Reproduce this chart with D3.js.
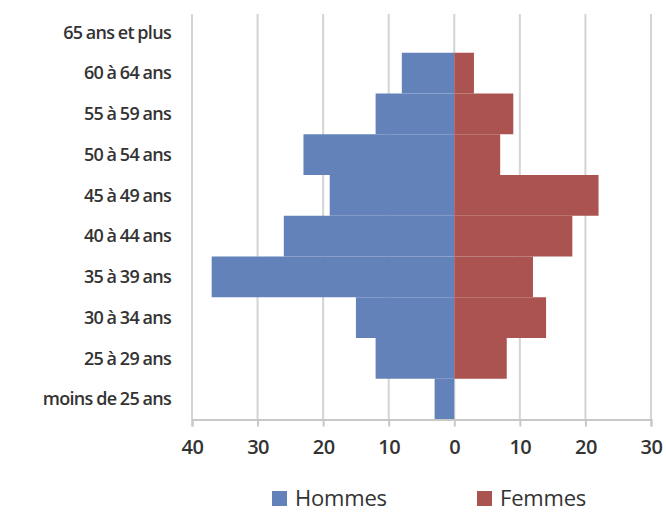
<!DOCTYPE html>
<html>
<head>
<meta charset="utf-8">
<script src="https://cdn.jsdelivr.net/npm/d3@7"></script>
<style>
  body { margin: 0; background: #fff; }
  text { font-family: "Open Sans", sans-serif; }
</style>
</head>
<body>
<div id="vis"></div>
<script>
// tranches d'âge, du haut vers le bas
let categories = ["65 ans et plus", "60 à 64 ans", "55 à 59 ans", "50 à 54 ans", "45 à 49 ans",
                  "40 à 44 ans", "35 à 39 ans", "30 à 34 ans", "25 à 29 ans", "moins de 25 ans"]
let hommes = [0, 8, 12, 23, 19, 26, 37, 15, 12, 3]
let femmes = [0, 3, 9, 7, 22, 18, 12, 14, 8, 0]
let ticks = [-40, -30, -20, -10, 0, 10, 20, 30]
let series = ["Hommes", "Femmes"]
let colors = ["#6482ba", "#aa5350"]

let width = 666, height = 512

let svg = d3.select("#vis").append("svg")
    .attr("width", width)
    .attr("height", height)

let x = d3.scaleLinear().domain([-40, 30]).range([192, 651])
let y = d3.scaleBand().domain(categories).range([12, 419.5]).padding(0)

// grille verticale
svg.append("g")
    .selectAll("line")
    .data(ticks)
    .join("line")
    .attr("x1", d => x(d)).attr("x2", d => x(d))
    .attr("y1", 14).attr("y2", 419.5)
    .attr("stroke", "#d4d4d4")
    .attr("stroke-width", 2)

// barres
svg.append("g").attr("fill", colors[0])
    .selectAll("rect")
    .data(categories)
    .join("rect")
    .attr("x", (d, i) => x(-hommes[i]))
    .attr("width", (d, i) => x(0) - x(-hommes[i]))
    .attr("y", d => y(d))
    .attr("height", y.bandwidth())

svg.append("g").attr("fill", colors[1])
    .selectAll("rect")
    .data(categories)
    .join("rect")
    .attr("x", x(0))
    .attr("width", (d, i) => x(femmes[i]) - x(0))
    .attr("y", d => y(d))
    .attr("height", y.bandwidth())

// axe des valeurs
let xAxis = svg.append("g")
    .attr("transform", "translate(0,419.5)")
    .call(d3.axisBottom(x).tickValues(ticks).tickSize(7).tickPadding(13)
        .tickFormat(d => Math.abs(d)))
xAxis.select(".domain").attr("stroke", "#c8c8c8").attr("stroke-width", 2)
xAxis.selectAll(".tick line").attr("stroke", "#c8c8c8").attr("stroke-width", 2)
xAxis.selectAll("text")
    .attr("fill", "#333")
    .attr("font-size", 20)
    .attr("font-weight", 600)
    .attr("font-family", "Open Sans, sans-serif")
    .attr("letter-spacing", -0.5)

// axe des catégories
let yAxis = svg.append("g")
    .attr("transform", `translate(${x(0)},0)`)
    .call(d3.axisLeft(y).tickSize(0).tickFormat(""))
yAxis.select(".domain").remove()

svg.append("g")
    .selectAll("text")
    .data(categories)
    .join("text")
    .attr("x", 171)
    .attr("y", d => y(d) + y.bandwidth() / 2)
    .attr("dy", "0.35em")
    .attr("text-anchor", "end")
    .attr("fill", "#333")
    .attr("font-size", 18)
    .attr("font-weight", 600)
    .attr("letter-spacing", -0.7)
    .attr("word-spacing", -0.5)
    .text(d => d)

// légende
let legend = svg.append("g")
    .selectAll("g")
    .data(series)
    .join("g")
    .attr("transform", (d, i) => `translate(${272 + i * 205},491)`)
legend.append("rect")
    .attr("width", 15).attr("height", 15)
    .attr("fill", (d, i) => colors[i])
legend.append("text")
    .attr("x", 23).attr("y", 15)
    .attr("fill", "#333")
    .attr("font-size", 22)
    .attr("letter-spacing", -0.2)
    .text(d => d)
</script>
</body>
</html>
